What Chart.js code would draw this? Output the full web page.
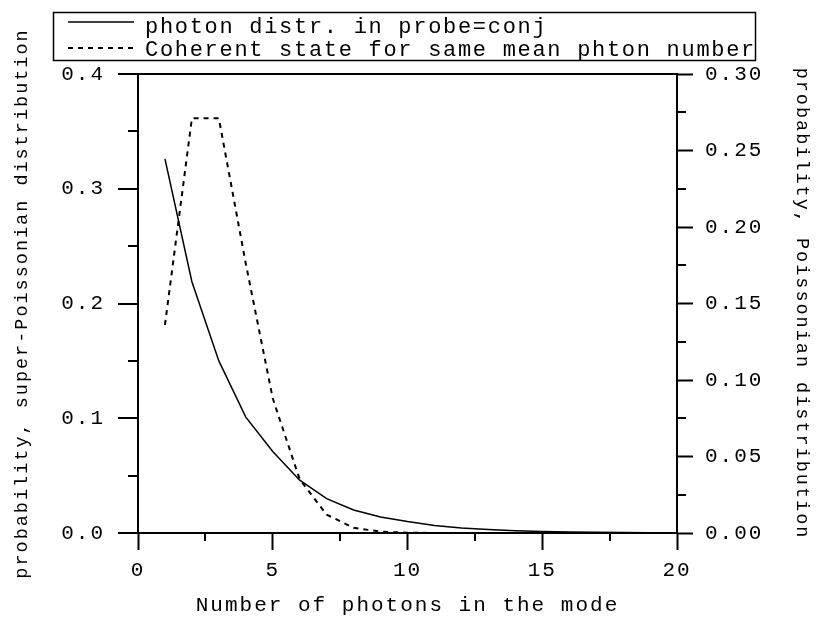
<!DOCTYPE html>
<html>
<head>
<meta charset="utf-8">
<script src="https://cdn.jsdelivr.net/npm/chart.js@4/dist/chart.umd.min.js"></script>
<style>
  body { margin: 0; background: #fff; }
  canvas { display: block; }
</style>
</head>
<body>
<canvas id="myChart" width="819" height="640"></canvas>
<script>
// photon number n on the x axis
var photonCounts = [1, 2, 3, 4, 5, 6, 7, 8, 9, 10, 11, 12, 13, 14, 15, 16, 17, 18, 19, 20];
// solid curve, left axis
var superPoisson = [0.326, 0.219, 0.150, 0.101, 0.071, 0.046, 0.030, 0.020, 0.014, 0.0100,
                    0.0066, 0.0044, 0.0030, 0.0020, 0.0013, 0.0009, 0.0006, 0.0004, 0.0003, 0.0002];
// dotted curve, right axis
var coherent = [0.136, 0.271, 0.271, 0.176, 0.088, 0.035, 0.012, 0.0034, 0.0009, 0.0002,
                0.00004, 0, 0, 0, 0, 0, 0, 0, 0, 0];

var seriesNames = ["photon distr. in probe=conj", "Coherent state for same mean phton number"];
var xTicksMinor = [2.5, 7.5, 12.5, 17.5];
var leftTicksMinor = [0.05, 0.15, 0.25, 0.35];
var rightTicksMinor = [0.025, 0.075, 0.125, 0.175, 0.225, 0.275];

var monoFont = "'Liberation Mono', 'Courier New', monospace";

function points(ys) {
    return photonCounts.map(function(n, i) { return {x: n, y: ys[i]}; });
}

// canvas letter spacing, the original font is wide
var spacingPlugin = {
    id: 'spacing',
    beforeUpdate: function(chart) { chart.ctx.letterSpacing = '2px'; },
    beforeDraw: function(chart) { chart.ctx.letterSpacing = '2px'; }
};

// short minor ticks outside the frame
var minorTicksPlugin = {
    id: 'minorTicks',
    afterDraw: function(chart) {
        var ctx = chart.ctx;
        var s = chart.scales;
        ctx.save();
        ctx.strokeStyle = '#000';
        ctx.lineWidth = 2;
        ctx.beginPath();
        xTicksMinor.forEach(function(v) {
            var px = Math.round(s.x.getPixelForValue(v));
            ctx.moveTo(px, s.x.top);
            ctx.lineTo(px, s.x.top + 8);
        });
        leftTicksMinor.forEach(function(v) {
            var py = Math.round(s.y.getPixelForValue(v));
            ctx.moveTo(s.y.right, py);
            ctx.lineTo(s.y.right - 10, py);
        });
        rightTicksMinor.forEach(function(v) {
            var py = Math.round(s.y1.getPixelForValue(v));
            ctx.moveTo(s.y1.left, py);
            ctx.lineTo(s.y1.left + 9, py);
        });
        ctx.stroke();
        ctx.restore();
    }
};

// boxed legend, one row per series
var boxLegendPlugin = {
    id: 'boxLegend',
    afterDraw: function(chart) {
        var ctx = chart.ctx;
        var box = {left: 53, top: 12, width: 702, height: 48};
        ctx.save();
        ctx.strokeStyle = '#000';
        ctx.lineWidth = 1.5;
        ctx.strokeRect(box.left + 0.5, box.top + 0.5, box.width, box.height);
        ctx.font = "22px " + monoFont;
        ctx.letterSpacing = '1.7px';
        ctx.fillStyle = '#000';
        ctx.textBaseline = 'alphabetic';
        chart.data.datasets.forEach(function(ds, i) {
            var lineY = box.top + 10 + i * 26;
            var textY = box.top + 21 + i * 23;
            ctx.beginPath();
            ctx.lineWidth = ds.borderWidth;
            ctx.setLineDash(ds.borderDash || []);
            ctx.moveTo(box.left + 15, lineY);
            ctx.lineTo(box.left + 81, lineY);
            ctx.stroke();
            ctx.setLineDash([]);
            ctx.fillText(ds.label, box.left + 92, textY);
        });
        ctx.restore();
    }
};

var ctx = document.getElementById("myChart").getContext('2d');
var myLineChart = new Chart(ctx, {
    type: 'line',
    data: {
        datasets: [{
            label: seriesNames[0],
            data: points(superPoisson),
            yAxisID: 'y',
            borderColor: '#000',
            borderWidth: 1.5,
            pointRadius: 0,
            fill: false,
            tension: 0
        }, {
            label: seriesNames[1],
            data: points(coherent),
            yAxisID: 'y1',
            borderColor: '#000',
            borderWidth: 2,
            borderDash: [5, 5],
            pointRadius: 0,
            fill: false,
            tension: 0
        }]
    },
    options: {
        responsive: false,
        animation: false,
        layout: { padding: { top: 74, left: 0, right: 0, bottom: 0 } },
        plugins: {
            legend: { display: false },
            tooltip: { enabled: false }
        },
        scales: {
            x: {
                type: 'linear',
                min: 0,
                max: 20,
                afterFit: function(scale) { scale.height = 107; },
                ticks: {
                    stepSize: 5,
                    color: '#000',
                    padding: 8,
                    font: { family: monoFont, size: 21 }
                },
                grid: { drawOnChartArea: false, tickLength: 17, tickColor: '#000', tickWidth: 2 },
                border: { display: true, color: '#000', width: 2 },
                title: {
                    display: true,
                    text: 'Number of photons in the mode',
                    color: '#000',
                    padding: { top: 0, bottom: 22 },
                    font: { family: monoFont, size: 21 }
                }
            },
            y: {
                position: 'left',
                min: 0,
                max: 0.4,
                afterFit: function(scale) { scale.width = 138; },
                ticks: {
                    stepSize: 0.1,
                    color: '#000',
                    padding: 13,
                    font: { family: monoFont, size: 21 },
                    callback: function(v) { return v.toFixed(1); }
                },
                grid: {
                    tickLength: 20,
                    tickColor: '#000',
                    tickWidth: 2,
                    lineWidth: 2,
                    color: function(c) {
                        return c.tick && Math.abs(c.tick.value - 0.4) < 1e-9 ? '#000' : 'rgba(0,0,0,0)';
                    }
                },
                border: { display: true, color: '#000', width: 2 },
                title: {
                    display: true,
                    text: 'probability, super-Poissonian distribution',
                    color: '#000',
                    padding: { top: 11, bottom: 0 },
                    font: { family: monoFont, size: 18.5 }
                }
            },
            y1: {
                position: 'right',
                min: 0,
                max: 0.3,
                afterFit: function(scale) { scale.width = 142; },
                ticks: {
                    stepSize: 0.05,
                    color: '#000',
                    padding: 12,
                    font: { family: monoFont, size: 21 },
                    callback: function(v) { return v.toFixed(2); }
                },
                grid: { drawOnChartArea: false, tickLength: 16, tickColor: '#000', tickWidth: 2 },
                border: { display: true, color: '#000', width: 2 },
                title: {
                    display: true,
                    text: 'probability, Poissonian distribution',
                    color: '#000',
                    padding: { top: 6, bottom: 0 },
                    font: { family: monoFont, size: 18.5 }
                }
            }
        }
    },
    plugins: [spacingPlugin, minorTicksPlugin, boxLegendPlugin]
});
</script>
</body>
</html>
